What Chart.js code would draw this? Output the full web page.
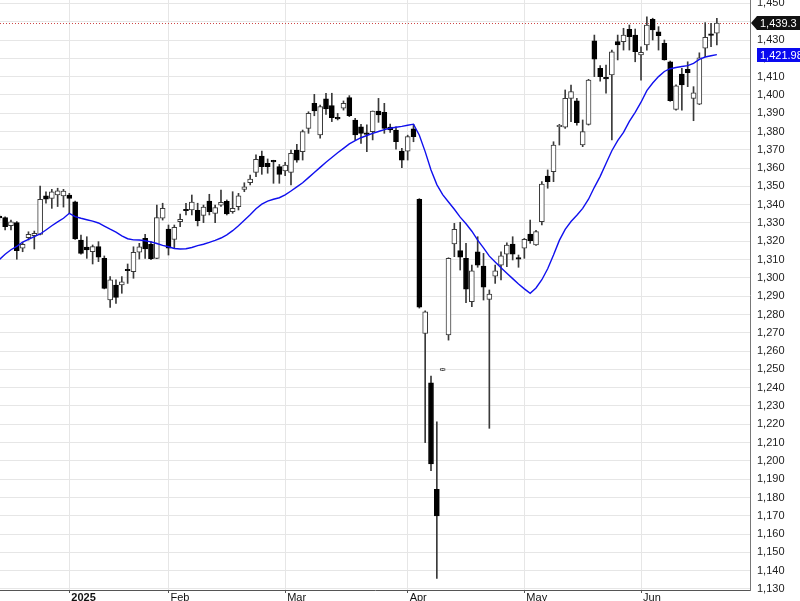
<!DOCTYPE html>
<html><head><meta charset="utf-8">
<script src="https://cdn.jsdelivr.net/npm/chart.js@4.4.1/dist/chart.umd.min.js"></script>
<style>html,body{margin:0;padding:0;background:#fff;overflow:hidden}canvas{display:block}</style>
</head><body>
<canvas id="c" width="800" height="601"></canvas>
<script>
const dates = [
'2024-12-16','2024-12-17','2024-12-18','2024-12-19','2024-12-20','2024-12-23','2024-12-24','2024-12-25','2024-12-26','2024-12-27','2024-12-30','2024-12-31',
'2025-01-02','2025-01-03','2025-01-06','2025-01-07','2025-01-08','2025-01-09','2025-01-10','2025-01-13','2025-01-14','2025-01-15','2025-01-16','2025-01-17','2025-01-20','2025-01-21','2025-01-22','2025-01-23','2025-01-24',
'2025-02-03','2025-02-04','2025-02-05','2025-02-06','2025-02-07','2025-02-10','2025-02-11','2025-02-12','2025-02-13','2025-02-14','2025-02-17','2025-02-18','2025-02-19','2025-02-20','2025-02-21','2025-02-24','2025-02-25','2025-02-26','2025-02-27','2025-02-28',
'2025-03-03','2025-03-04','2025-03-05','2025-03-06','2025-03-07','2025-03-10','2025-03-11','2025-03-12','2025-03-13','2025-03-14','2025-03-17','2025-03-18','2025-03-19','2025-03-20','2025-03-21','2025-03-24','2025-03-25','2025-03-26','2025-03-27','2025-03-28','2025-03-31',
'2025-04-01','2025-04-02','2025-04-03','2025-04-04','2025-04-08','2025-04-09','2025-04-10','2025-04-11','2025-04-14','2025-04-15','2025-04-16','2025-04-17','2025-04-18','2025-04-21','2025-04-22','2025-04-23','2025-04-24','2025-04-25','2025-04-28','2025-04-29',
'2025-05-05','2025-05-06','2025-05-07','2025-05-08','2025-05-09','2025-05-12','2025-05-13','2025-05-14','2025-05-15','2025-05-16','2025-05-19','2025-05-20','2025-05-21','2025-05-22','2025-05-23','2025-05-26','2025-05-27','2025-05-28','2025-05-29','2025-05-30',
'2025-06-02','2025-06-03','2025-06-04','2025-06-05','2025-06-06','2025-06-09','2025-06-10','2025-06-11','2025-06-12','2025-06-13','2025-06-16','2025-06-17','2025-06-18','2025-06-19'
];
const opens = [
1333.8,1332.9,1328.5,1330.2,1316.2,1322.0,1323.1,1323.8,1344.8,1343.5,1345.3,1344.8,
1345.3,1341.6,1320.7,1316.8,1314.3,1317.1,1310.7,1287.9,1296.1,1296.1,1304.5,1303.4,1314.0,1321.6,1318.4,1310.7,1332.6,
1326.7,1321.0,1330.7,1337.4,1337.1,1336.9,1334.2,1342.0,1335.3,1339.8,1341.9,1336.2,1338.9,1348.4,1352.0,1357.7,1366.6,1362.6,1364.0,1360.8,
1358.4,1357.7,1369.9,1369.0,1381.7,1395.4,1378.1,1397.8,1394.1,1387.6,1392.7,1398.5,1386.3,1382.6,1379.0,1379.9,1391.2,1390.5,1382.4,1380.8,1369.3,
1369.3,1381.4,1343.0,1269.7,1242.7,1184.5,1249.4,1268.8,1318.5,1314.9,1310.7,1287.0,1314.3,1306.5,1288.3,1301.0,1307.0,1313.0,1318.5,1310.9,
1316.2,1324.0,1318.0,1330.7,1355.7,1358.0,1382.6,1382.3,1398.1,1396.8,1372.6,1383.9,1429.6,1414.5,1409.4,1410.9,1429.1,1429.1,1435.8,1432.7,
1421.8,1427.3,1441.3,1434.5,1428.2,1418.1,1392.1,1411.4,1414.0,1398.1,1394.9,1425.5,1433.1,1433.7
];
const highs = [
1334.5,1333.4,1331.6,1330.8,1319.3,1325.2,1325.6,1350.2,1347.1,1348.4,1349.0,1348.4,
1346.2,1342.0,1323.4,1322.5,1318.0,1319.8,1312.0,1300.7,1298.9,1300.7,1307.6,1317.0,1318.9,1323.8,1319.8,1339.8,1340.8,
1328.9,1328.9,1334.9,1340.8,1345.3,1340.8,1339.8,1345.7,1339.8,1348.0,1342.6,1347.1,1346.2,1352.0,1356.2,1367.2,1369.3,1365.0,1364.3,1362.0,
1363.2,1369.9,1373.0,1380.8,1390.8,1400.3,1394.5,1400.9,1400.9,1389.9,1396.7,1399.6,1387.2,1383.9,1383.6,1391.2,1398.1,1395.4,1384.0,1382.6,1370.8,
1378.0,1383.9,1343.3,1282.0,1246.4,1221.4,1250.4,1311.0,1329.8,1330.4,1318.9,1307.0,1322.5,1313.4,1293.4,1307.0,1314.3,1319.2,1322.5,1312.5,
1321.6,1331.6,1326.0,1352.6,1359.0,1374.4,1383.9,1402.7,1405.4,1398.1,1386.3,1408.5,1432.7,1416.0,1416.3,1424.5,1432.7,1436.4,1438.2,1436.0,
1426.3,1442.7,1441.9,1437.3,1430.0,1418.5,1405.5,1414.5,1418.1,1404.5,1423.0,1439.5,1439.1,1441.9
];
const lows = [
1331.5,1326.2,1326.2,1310.2,1314.3,1320.7,1315.8,1323.5,1340.8,1338.0,1339.0,1338.7,
1335.3,1321.0,1313.0,1310.7,1307.6,1308.9,1294.0,1283.9,1286.1,1291.6,1297.0,1299.8,1310.3,1310.7,1310.0,1310.5,1331.6,
1312.5,1316.2,1328.0,1334.4,1334.4,1328.4,1330.2,1334.4,1330.2,1339.0,1334.4,1335.3,1337.1,1347.1,1350.8,1355.3,1356.6,1357.2,1351.7,1351.7,
1355.8,1350.8,1363.2,1364.4,1379.0,1388.6,1376.3,1389.4,1385.4,1386.3,1391.7,1388.1,1375.4,1373.5,1369.0,1375.4,1385.0,1379.0,1379.5,1370.4,1360.2,
1364.4,1374.4,1283.5,1210.0,1194.6,1135.8,1249.4,1266.0,1311.6,1304.3,1286.4,1284.3,1305.8,1287.9,1217.8,1297.0,1298.9,1306.1,1309.8,1305.8,
1310.7,1318.9,1317.8,1328.9,1349.0,1352.6,1372.6,1381.7,1385.4,1383.5,1371.7,1383.5,1410.0,1407.5,1400.9,1375.4,1419.1,1424.5,1424.5,1418.1,
1408.1,1424.5,1430.0,1424.5,1419.0,1396.5,1391.7,1391.7,1404.5,1385.9,1394.7,1420.9,1426.3,1427.3
];
const closes = [
1332.8,1328.0,1330.7,1314.9,1318.4,1323.8,1324.4,1343.0,1343.0,1347.1,1347.6,1347.5,
1343.5,1321.3,1313.4,1315.3,1317.1,1311.3,1294.3,1298.9,1289.4,1297.9,1303.9,1314.0,1317.0,1315.8,1310.5,1332.9,1338.0,
1316.2,1327.6,1332.0,1336.7,1341.5,1331.3,1338.7,1336.2,1338.4,1341.3,1334.9,1338.0,1344.9,1349.8,1354.0,1364.8,1360.8,1360.8,1363.4,1356.6,
1361.7,1368.1,1364.4,1379.9,1389.9,1391.2,1393.6,1392.3,1387.5,1386.9,1395.4,1388.6,1378.1,1379.0,1378.4,1391.2,1389.0,1381.7,1380.8,1374.4,1364.4,
1377.2,1377.2,1284.0,1281.5,1198.3,1169.9,1250.4,1310.7,1326.6,1311.3,1293.9,1303.9,1307.0,1294.9,1291.2,1303.8,1312.0,1318.0,1313.0,1310.3,
1321.1,1320.3,1325.3,1351.3,1352.6,1372.6,1383.3,1398.1,1401.8,1384.8,1379.9,1408.1,1419.5,1410.0,1408.8,1423.6,1427.3,1432.7,1431.8,1423.6,
1423.2,1438.2,1435.5,1432.3,1419.1,1396.8,1404.9,1405.4,1412.1,1401.2,1420.3,1431.5,1432.5,1439.3
];
const movingAvg = [
1310.0,1312.9,1315.4,1317.2,1319.6,1321.1,1322.6,1324.0,1326.2,1328.5,1330.6,1332.6,
1335.3,1333.5,1332.6,1331.8,1331.0,1330.0,1328.3,1326.6,1325.0,1323.0,1321.4,1320.8,1320.7,1320.3,1319.7,1318.8,1317.8,
1317.0,1316.1,1315.8,1315.9,1316.6,1317.6,1318.4,1319.4,1320.5,1321.8,1323.5,1325.8,1328.5,1331.5,1334.5,1337.8,1340.3,1342.0,1343.0,1343.8,
1345.4,1347.5,1349.7,1352.0,1354.8,1357.6,1360.4,1363.2,1365.8,1368.4,1370.8,1373.2,1375.0,1376.6,1377.8,1379.0,1380.0,1381.0,1381.8,1382.3,1382.8,
1383.4,1384.0,1378.0,1369.0,1359.0,1351.0,1345.5,1341.5,1337.5,1333.2,1329.6,1325.5,1320.6,1316.4,1311.9,1308.7,1305.5,1302.5,1299.6,1296.7,
1294.0,1291.6,1294.5,1299.0,1305.0,1312.5,1320.5,1326.5,1330.8,1334.2,1338.0,1343.0,1349.5,1355.5,1362.5,1369.5,1375.0,1379.5,1385.5,1390.5,
1396.0,1402.3,1406.5,1410.0,1412.8,1414.3,1415.0,1415.5,1416.0,1417.2,1419.4,1420.7,1421.4,1421.98
];
const yTickValues = [1130,1140,1150,1160,1170,1180,1190,1200,1210,1220,1230,1240,1250,1260,1270,1280,1290,1300,1310,1320,1330,1340,1350,1360,1370,1380,1390,1400,1410,1420,1430,1440,1450];
const monthLabels = ['2025','Feb','Mar','Apr','May','Jun'];

// month-start indices derived from the dates
const monthStarts = [];
for (let i = 1; i < dates.length; i++) {
  if (dates[i].slice(0,7) !== dates[i-1].slice(0,7)) monthStarts.push(i);
}

const FONT = "'Liberation Sans', Arial, sans-serif";
function fmt(v, d) {
  const s = (d === undefined ? String(v) : v.toFixed(d));
  const parts = s.split('.');
  parts[0] = parts[0].replace(/\B(?=(\d{3})+(?!\d))/g, ',');
  return parts.join('.');
}
function noPad(s) { s.paddingTop = 0; s.paddingBottom = 0; s.paddingLeft = 0; s.paddingRight = 0; }

const lastLine = {
  id: 'lastLine',
  beforeDatasetsDraw(chart) {
    const {ctx, chartArea: a, scales: {y}} = chart;
    const py = Math.round(y.getPixelForValue(closes[closes.length-1])) + 0.5;
    ctx.save();
    ctx.setLineDash([1, 2]);
    ctx.strokeStyle = 'rgb(205,70,70)';
    ctx.lineWidth = 1;
    ctx.beginPath();
    ctx.moveTo(a.left, py);
    ctx.lineTo(a.right, py);
    ctx.stroke();
    ctx.restore();
  }
};
const tags = {
  id: 'tags',
  afterDraw(chart) {
    const {ctx, scales: {y}} = chart;
    const ax = y.left;
    const v1 = closes[closes.length-1];
    const p1 = Math.round(y.getPixelForValue(v1));
    ctx.save();
    ctx.fillStyle = '#111';
    ctx.beginPath();
    ctx.moveTo(ax + 1, p1);
    ctx.lineTo(ax + 7, p1 - 7);
    ctx.lineTo(800, p1 - 7);
    ctx.lineTo(800, p1 + 7);
    ctx.lineTo(ax + 7, p1 + 7);
    ctx.closePath();
    ctx.fill();
    ctx.fillStyle = '#fff';
    ctx.font = '11px ' + FONT;
    ctx.textBaseline = 'middle';
    ctx.textAlign = 'left';
    ctx.fillText(fmt(v1), ax + 10, p1 + 0.5);
    const v2 = movingAvg[movingAvg.length-1];
    const p2 = Math.round(y.getPixelForValue(v2));
    ctx.fillStyle = '#0a0af0';
    ctx.fillRect(ax + 7, p2 - 7, 800 - ax - 7, 14);
    ctx.fillStyle = '#fff';
    ctx.fillText(fmt(v2), ax + 10, p2 + 0.5);
    ctx.restore();
  }
};

const up = opens.map((o, i) => closes[i] >= o);

new Chart(document.getElementById('c'), {
  type: 'bar',
  data: {
    datasets: [
      {
        type: 'line',
        data: movingAvg.map((v, i) => ({x: i, y: v})),
        borderColor: '#1010ee',
        borderWidth: 1.4,
        pointRadius: 0,
        tension: 0,
        order: 0
      },
      {
        type: 'bar',
        data: opens.map((o, i) => ({x: i, y: [Math.min(o, closes[i]), Math.max(o, closes[i])]})),
        backgroundColor: up.map(u => u ? '#ffffff' : '#000000'),
        borderColor: up.map(u => u ? '#3a3a3a' : '#000000'),
        borderWidth: 1,
        borderSkipped: false,
        barThickness: 5,
        maxBarThickness: 5,
        minBarLength: 1.5,
        grouped: false,
        order: 1
      },
      {
        type: 'bar',
        data: highs.map((h, i) => ({x: i, y: [lows[i], h]})),
        backgroundColor: '#3a3a3a',
        borderWidth: 0,
        barThickness: 1,
        maxBarThickness: 1,
        grouped: false,
        order: 2
      }
    ]
  },
  options: {
    responsive: false,
    animation: false,
    devicePixelRatio: 1,
    layout: {padding: 0},
    plugins: {legend: {display: false}, tooltip: {enabled: false}},
    scales: {
      x: {
        type: 'linear',
        min: 0.12,
        max: 128.68,
        offset: false,
        afterBuildTicks: s => { s.ticks = monthStarts.map(v => ({value: v})); },
        afterFit: s => { s.height = 11; noPad(s); },
        grid: {color: '#e6e6e6', offset: false, drawTicks: true, tickLength: 3, tickColor: '#555'},
        border: {color: '#555'},
        ticks: {
          autoSkip: false, maxRotation: 0, minRotation: 0,
          align: 'start', padding: -2, labelOffset: 2,
          color: '#111',
          font: c => ({family: FONT, size: 11, weight: (c.tick && c.tick.value === monthStarts[0]) ? 'bold' : 'normal'}),
          callback: v => { const k = monthStarts.indexOf(v); return k >= 0 ? monthLabels[k] : ''; }
        }
      },
      y: {
        position: 'right',
        min: 1129.45,
        max: 1451.86,
        afterBuildTicks: s => { s.ticks = yTickValues.map(v => ({value: v})); },
        afterFit: s => { s.width = 50; noPad(s); },
        grid: {color: '#e6e6e6', drawTicks: false},
        border: {color: '#777'},
        ticks: {
          autoSkip: false, padding: 7, color: '#222',
          font: {family: FONT, size: 11},
          callback: v => fmt(v)
        }
      }
    }
  },
  plugins: [lastLine, tags]
});
</script>
</body></html>
